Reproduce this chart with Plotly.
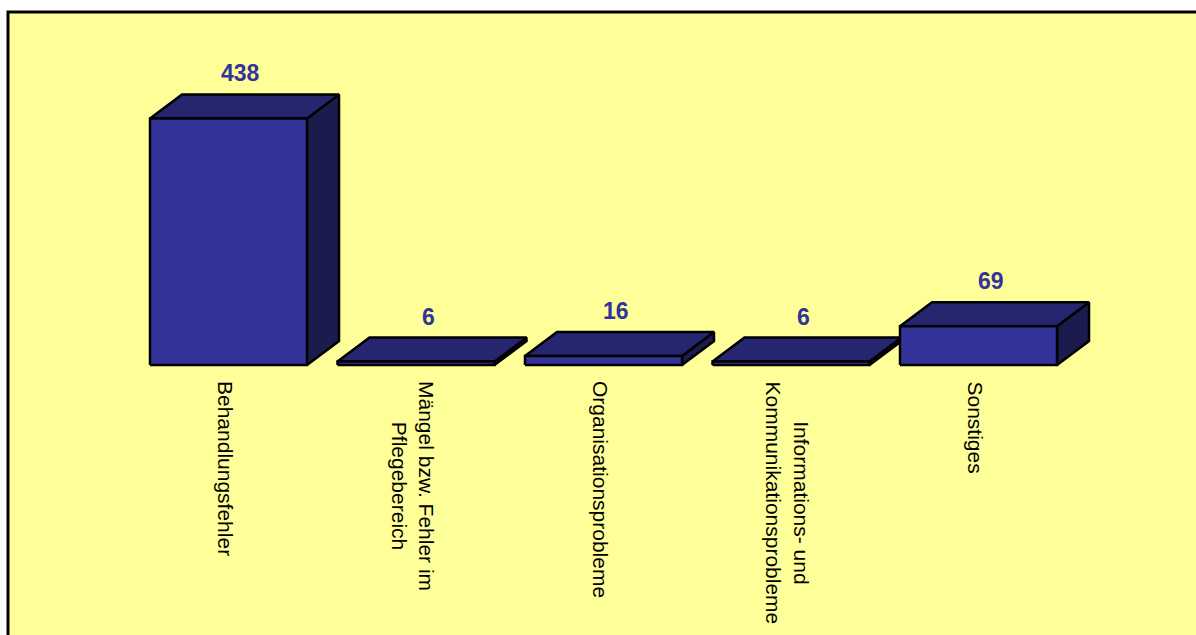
import plotly.graph_objects as go

# Beschwerdegründe und Anzahl der Fälle
categories = [
    "Behandlungsfehler",
    "Mängel bzw. Fehler im<br>Pflegebereich",
    "Organisationsprobleme",
    "Informations- und<br>Kommunikationsprobleme",
    "Sonstiges",
]
values = [438, 6, 16, 6, 69]

# --- geometry of the pseudo-3D boxes (axis units) ---
W, H = 1196, 635
PX_PER_CAT = 187.5          # pixels per category step
PX_PER_VAL = 0.563          # pixels per unit of value
X0_PX = 228.5               # pixel position of the first category
BASE_PX = 365               # pixel row of the zero line (from top)

BAR_W = 157 / PX_PER_CAT    # front-face width
DX = 32 / PX_PER_CAT        # depth offset to the right
DY = 24 / PX_PER_VAL        # depth offset upwards

x_range = [-X0_PX / PX_PER_CAT, (W - X0_PX) / PX_PER_CAT]
y_range = [-(H - BASE_PX) / PX_PER_VAL, BASE_PX / PX_PER_VAL]

FRONT = "#333399"
TOP = "#262670"
SIDE = "#1b1b4d"
EDGE = dict(color="black", width=2.5)

fig = go.Figure()


def face(xs, ys, color):
    fig.add_trace(go.Scatter(
        x=xs + [xs[0]], y=ys + [ys[0]], mode="lines", fill="toself",
        fillcolor=color, line=EDGE, hoverinfo="skip", showlegend=False,
    ))


for i, v in enumerate(values):
    l, r = i - BAR_W / 2, i + BAR_W / 2
    # right side
    face([r, r + DX, r + DX, r], [0, DY, v + DY, v], SIDE)
    # top
    face([l, r, r + DX, l + DX], [v, v, v + DY, v + DY], TOP)
    # front
    face([l, r, r, l], [0, 0, v, v], FRONT)

annotations = []
for i, v in enumerate(values):
    annotations.append(dict(
        x=i + 12 / PX_PER_CAT, y=v + DY + 21 / PX_PER_VAL,
        xref="x", yref="y", text=str(v), showarrow=False,
        xanchor="center", yanchor="middle",
        font=dict(family="Liberation Sans, Arial, sans-serif", size=23,
                  color=FRONT, weight="bold"),
    ))
for i, c in enumerate(categories):
    annotations.append(dict(
        x=i - 3 / PX_PER_CAT, y=1 - 379 / H, xref="x", yref="paper",
        text=c, showarrow=False, textangle=90, align="center",
        xanchor="center", yanchor="top",
        font=dict(family="Liberation Sans, Arial, sans-serif", size=21,
                  color="black"),
    ))

fig.update_layout(
    width=W, height=H,
    margin=dict(l=0, r=0, t=0, b=0),
    paper_bgcolor="white",
    plot_bgcolor="rgba(0,0,0,0)",
    xaxis=dict(range=x_range, visible=False, fixedrange=True),
    yaxis=dict(range=y_range, visible=False, fixedrange=True),
    shapes=[dict(
        type="rect", xref="paper", yref="paper",
        x0=8 / W, x1=1.05, y0=-0.05, y1=1 - 12 / H,
        fillcolor="#ffff99", line=dict(color="black", width=3),
        layer="below",
    )],
    annotations=annotations,
    showlegend=False,
)

fig.write_html("out.html")
